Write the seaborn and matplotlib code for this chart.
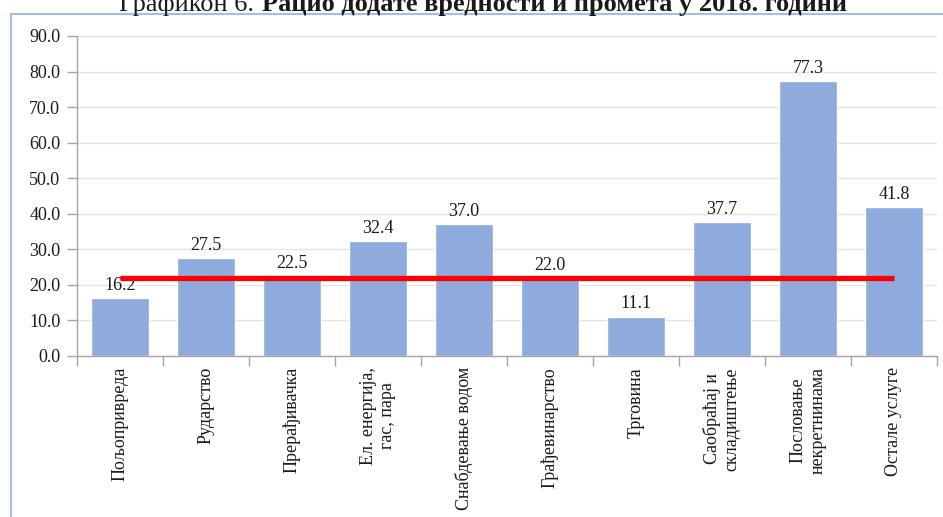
import numpy as np
import pandas as pd
import seaborn as sns
import matplotlib.pyplot as plt
from matplotlib.patches import Rectangle
from matplotlib.ticker import FormatStrFormatter, FixedLocator

sectors = [
    "Пољопривреда",
    "Рударство",
    "Прерађивачка",
    "Ел. енергија,\nгас, пара",
    "Снабдевање водом",
    "Грађевинарство",
    "Трговина",
    "Саобраћај и\nскладиштење",
    "Пословање\nнекретнинама",
    "Остале услуге",
]
ratio = [16.2, 27.5, 22.5, 32.4, 37.0, 22.0, 11.1, 37.7, 77.3, 41.8]
average = 21.9

title_normal = "Графикон 6."
title_bold = "Рацио додате вредности и промета у 2018. години"

df = pd.DataFrame({"sector": sectors, "ratio": ratio})

sns.set_theme(style="white")
plt.rcParams["font.family"] = ["Liberation Serif", "DejaVu Serif"]

fig = plt.figure(figsize=(9.43, 5.17), dpi=100)
ax = fig.add_axes([77 / 943, 1 - 356 / 517, 860 / 943, 320 / 517])

sns.barplot(data=df, x="sector", y="ratio", color="#8FAADC", width=0.675,
            saturation=1, ax=ax, zorder=2)

ax.bar_label(ax.containers[0], fmt="%.1f", padding=3, fontsize=13, color="#1a1a1a")

ax.hlines(average, xmin=0, xmax=len(sectors) - 1, color="#FF0000", lw=3.8, zorder=3)

ax.set_xlim(-0.5, len(sectors) - 0.5)
ax.set_ylim(0, 90)
ax.yaxis.set_major_locator(FixedLocator(np.arange(0, 91, 10)))
ax.yaxis.set_major_formatter(FormatStrFormatter("%.1f"))
ax.grid(axis="y", color="#E3E3E3", lw=1, zorder=0)
ax.set_axisbelow(True)

ax.set_xlabel("")
ax.set_ylabel("")
ax.set_xticks(range(len(sectors)))
ax.set_xticklabels(sectors, rotation=90, fontsize=13, multialignment="center",
                   color="#1a1a1a")
ax.xaxis.set_minor_locator(FixedLocator(np.arange(-0.5, len(sectors), 1)))
ax.tick_params(axis="x", which="major", length=0, pad=8)
ax.tick_params(axis="x", which="minor", length=7, color="#A6A6A6", width=1,
               direction="out", bottom=True)
ax.tick_params(axis="y", length=7, color="#A6A6A6", width=1, direction="out",
               left=True, pad=5, labelsize=13, labelcolor="#1a1a1a")

for side in ["top", "right"]:
    ax.spines[side].set_visible(False)
for side in ["left", "bottom"]:
    ax.spines[side].set_color("#A6A6A6")
    ax.spines[side].set_linewidth(1)

fig.add_artist(Rectangle((11 / 943, -0.1), 1.2, 1.1 - 14 / 517, fill=False,
                         edgecolor="#A4BCE6", lw=1.5, transform=fig.transFigure))

fig.text(254 / 943, 1 - 11 / 517, title_normal, ha="right", va="baseline",
         fontsize=19, color="#1a1a1a")
fig.text(262 / 943, 1 - 11 / 517, title_bold, ha="left", va="baseline",
         fontsize=19, fontweight="bold", color="#1a1a1a")

fig.savefig("out.png", dpi=100)
